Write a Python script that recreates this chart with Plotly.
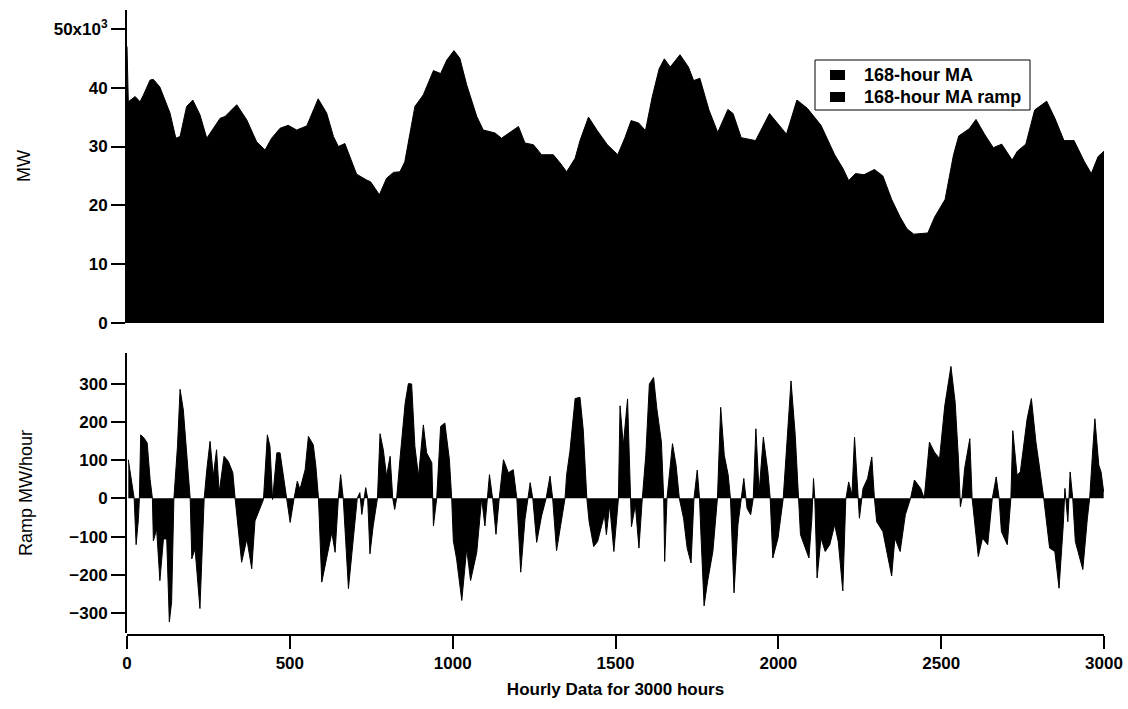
import plotly.graph_objects as go

# 168-hour moving average of load (MW), sampled along the 3000-hour record
ma_hours = [0, 4, 25, 40, 50, 71, 81, 101, 132, 150,
            163, 183, 202, 224, 245, 265, 286, 301, 337, 368,
            398, 424, 444, 470, 495, 521, 552, 587, 613, 634,
            649, 669, 705, 736, 748, 775, 797, 818, 838, 853,
            884, 910, 941, 963, 982, 1004, 1022, 1043, 1074, 1094,
            1130, 1150, 1202, 1222, 1248, 1273, 1309, 1330, 1350, 1376,
            1391, 1417, 1444, 1475, 1507, 1529, 1548, 1571, 1592, 1613,
            1634, 1650, 1668, 1698, 1724, 1740, 1759, 1787, 1814, 1845,
            1861, 1886, 1909, 1930, 1973, 1994, 2025, 2057, 2089, 2131,
            2173, 2199, 2216, 2237, 2263, 2295, 2321, 2348, 2374, 2395,
            2416, 2459, 2480, 2512, 2538, 2554, 2586, 2607, 2633, 2660,
            2686, 2718, 2734, 2760, 2787, 2824, 2850, 2877, 2908, 2940,
            2961, 2982, 3000]
ma_mw = [47000, 37600, 38500, 37600, 38700, 41300, 41400, 40100, 35700, 31400,
         31700, 36800, 37900, 35400, 31400, 33100, 34800, 35100, 37100, 34500,
         30800, 29400, 31400, 33100, 33600, 32800, 33500, 38100, 35700, 31700,
         30000, 30500, 25300, 24300, 24000, 21800, 24600, 25600, 25700, 27400,
         36800, 38800, 42900, 42400, 44700, 46300, 45000, 40500, 35100, 32800,
         32300, 31400, 33400, 30600, 30300, 28600, 28600, 27200, 25700, 28000,
         31000, 35000, 32700, 30300, 28600, 31500, 34400, 34000, 32700, 38500,
         43200, 44900, 43500, 45600, 43500, 41200, 41600, 36200, 32400, 36300,
         35600, 31500, 31300, 31000, 35600, 34200, 32100, 37900, 36500, 33600,
         28600, 26200, 24200, 25400, 25200, 26100, 25000, 21000, 18000, 16000,
         15100, 15300, 18000, 21000, 28600, 31800, 33000, 34600, 32100, 29800,
         30400, 27700, 29200, 30400, 36200, 37700, 34700, 31000, 31000, 27400,
         25400, 28300, 29200]

# Hour-to-hour ramp of the moving average (MW/hour), first half of the record
ramp_hours_a = [4, 14, 22, 28, 35, 38, 42, 52, 62, 71,
                78, 81, 91, 101, 112, 122, 130, 137, 144, 155,
                163, 173, 183, 194, 199, 209, 224, 237, 245, 255,
                265, 275, 283, 298, 311, 325, 332, 342, 352, 368,
                383, 393, 419, 431, 439, 447, 460, 470, 480, 490,
                501, 513, 523, 531, 547, 557, 572, 580, 588, 598,
                613, 629, 639, 649, 656, 664, 680, 695, 707, 715,
                721, 733, 739, 746, 756, 769, 777, 787, 797, 808,
                816, 822, 828, 838, 854, 864, 874, 884, 895, 910,
                920, 936, 941, 951, 963, 976, 990, 997, 1002, 1012,
                1028, 1043, 1055, 1074, 1089, 1099, 1106, 1113, 1123, 1133,
                1143, 1156, 1171, 1186, 1197, 1209, 1222, 1230, 1238, 1246,
                1258, 1273, 1287, 1299, 1307, 1319, 1335, 1345, 1350, 1360,
                1376, 1391, 1401, 1412]
ramp_mw_a = [101, 49, 0, -121, -55, 0, 166, 158, 145, 49,
             0, -111, -81, -215, -106, -106, -323, -271, 0, 136,
             285, 231, 119, 0, -158, -132, -288, 0, 75, 149,
             58, 127, 15, 110, 97, 67, 0, -89, -167, -106,
             -184, -59, -3, 166, 136, -3, 119, 119, 58, 0,
             -63, 0, 45, 23, 75, 162, 140, 84, 0, -219,
             -158, -89, -141, 0, 62, 0, -236, -98, 0, 15,
             -42, 28, 0, -145, -72, 0, 169, 127, 58, 110,
             0, -29, 0, 101, 248, 300, 299, 136, 58, 192,
             119, 93, -72, 0, 188, 197, 101, 0, -111, -158,
             -267, -132, -215, -141, 0, -72, 0, 62, -3, -94,
             0, 101, 67, 75, 0, -193, -55, 0, 41, 0,
             -115, -46, 0, 58, 0, -137, -55, 0, 62, 123,
             261, 264, 179, 0]

# Ramp, second half of the record
ramp_hours_b = [1419, 1433, 1445, 1456, 1466, 1472, 1482, 1495, 1505, 1509,
                1514, 1524, 1537, 1546, 1549, 1561, 1572, 1582, 1593, 1604,
                1617, 1627, 1641, 1648, 1651, 1658, 1669, 1675, 1686, 1696,
                1709, 1720, 1732, 1741, 1751, 1758, 1762, 1772, 1783, 1799,
                1813, 1823, 1834, 1846, 1853, 1864, 1876, 1886, 1894, 1904,
                1915, 1923, 1931, 1941, 1954, 1968, 1975, 1983, 1999, 2015,
                2031, 2039, 2052, 2063, 2068, 2094, 2103, 2108, 2112, 2119,
                2131, 2144, 2158, 2173, 2184, 2198, 2207, 2216, 2226, 2234,
                2242, 2249, 2260, 2274, 2287, 2295, 2302, 2321, 2337, 2348,
                2358, 2374, 2390, 2406, 2418, 2437, 2448, 2464, 2479, 2495,
                2511, 2530, 2543, 2553, 2559, 2564, 2572, 2588, 2595, 2614,
                2627, 2643, 2657, 2669, 2678, 2685, 2703, 2714, 2720, 2733,
                2743, 2764, 2777, 2791, 2801, 2815, 2833, 2849, 2862, 2875,
                2880, 2889, 2896, 2904, 2912, 2935, 2949, 2956, 2965, 2972,
                2984, 2991, 2999]
ramp_mw_b = [-61, -126, -113, -78, -43, -95, -17, -139, -26, 0,
             242, 139, 260, 0, -74, -17, -130, -4, 113, 299,
             316, 234, 147, 0, -165, 0, 95, 143, 87, 0,
             -52, -130, -169, 0, 74, 0, -87, -281, -216, -139,
             0, 238, 113, 61, 0, -247, -69, 0, 52, -26,
             -43, 0, 182, 17, 160, 69, 0, -156, -104, 0,
             208, 307, 164, 0, -95, -156, -52, 52, 0, -208,
             -104, -139, -121, -69, -113, -242, -4, 43, 9, 160,
             35, -52, 26, 52, 108, 0, -61, -87, -156, -203,
             -104, -139, -43, 0, 48, 26, 0, 147, 121, 104,
             242, 345, 251, 104, -22, 0, 78, 156, 0, -152,
             -104, -121, 0, 56, 0, -87, -121, 0, 177, 61,
             69, 208, 261, 147, 87, 0, -130, -139, -235, -69,
             26, -61, 69, 0, -113, -186, -52, 0, 121, 208,
             87, 69, 17]

ramp_hours = ramp_hours_a + ramp_hours_b
ramp_mw = ramp_mw_a + ramp_mw_b

mw_ticks = [0, 10000, 20000, 30000, 40000, 50000]
mw_tick_text = ["0", "10", "20", "30", "40", "50x10<sup>3</sup>"]
ramp_ticks = [-300, -200, -100, 0, 100, 200, 300]
hour_ticks = [0, 500, 1000, 1500, 2000, 2500, 3000]
legend_names = ["168-hour MA", "168-hour MA ramp"]

FONT = "Liberation Sans, Arial, sans-serif"
tick_font = dict(family=FONT, size=17, color="black", weight="bold")

# page geometry (pixels)
W, H = 1128, 704
PL, PR, PT, PB = 127, 1104, 10, 635


def px(x):
    return (x - PL) / (PR - PL)


def py(y):
    return (PB - y) / (PB - PT)


fig = go.Figure()

fig.add_trace(go.Scatter(
    x=ma_hours, y=ma_mw, mode="lines", fill="tozeroy",
    line=dict(color="black", width=1), fillcolor="black",
    showlegend=False, xaxis="x", yaxis="y", hoverinfo="skip"))

fig.add_trace(go.Scatter(
    x=ramp_hours, y=ramp_mw, mode="lines", fill="tozeroy",
    line=dict(color="black", width=1), fillcolor="black",
    showlegend=False, xaxis="x2", yaxis="y2", hoverinfo="skip"))

axis_common = dict(showgrid=False, zeroline=False, linecolor="black",
                   tickcolor="black", tickfont=tick_font, automargin=False)

# legend box with solid black keys
shapes = [dict(type="rect", xref="paper", yref="paper",
               x0=px(815), x1=px(1030), y0=py(110), y1=py(60),
               line=dict(color="black", width=1), fillcolor="white", layer="above")]
annotations = []
for i, name in enumerate(legend_names):
    cy = 75 + i * 22
    shapes.append(dict(type="rect", xref="paper", yref="paper",
                       x0=px(830), x1=px(845), y0=py(cy + 5), y1=py(cy - 5),
                       line=dict(color="black", width=0), fillcolor="black",
                       layer="above"))
    annotations.append(dict(text=name, xref="paper", yref="paper",
                            x=px(862), y=py(cy), xanchor="left", yanchor="middle",
                            showarrow=False,
                            font=dict(family=FONT, size=18, color="black",
                                      weight="bold")))

annotations += [
    dict(text="MW", textangle=-90, xref="paper", yref="paper",
         x=px(24), y=py(166), xanchor="center", yanchor="middle",
         showarrow=False, font=dict(family=FONT, size=18, color="black")),
    dict(text="Ramp MW/hour", textangle=-90, xref="paper", yref="paper",
         x=px(26), y=py(493), xanchor="center", yanchor="middle",
         showarrow=False, font=dict(family=FONT, size=18, color="black")),
]

fig.update_layout(
    width=W, height=H,
    margin=dict(l=PL, r=W - PR, t=PT, b=H - PB),
    paper_bgcolor="white", plot_bgcolor="white",
    showlegend=False,
    xaxis=dict(domain=[0, 1], anchor="y", range=[0, 3000], showline=False,
               showticklabels=False, ticks="", showgrid=False, zeroline=False,
               automargin=False),
    yaxis=dict(domain=[py(323), 1.0], anchor="x", range=[0, 53200],
               tickvals=mw_ticks, ticktext=mw_tick_text,
               ticks="outside", ticklen=14, tickwidth=1.5,
               showline=True, linewidth=2, **axis_common),
    xaxis2=dict(domain=[0, 1], anchor="free", position=0, range=[0, 3000],
                tickvals=hour_ticks, ticks="outside", ticklen=13, tickwidth=1.5,
                showline=True, linewidth=1.5,
                title=dict(text="Hourly Data for 3000 hours", standoff=10,
                           font=dict(family=FONT, size=17, color="black",
                                     weight="bold")),
                **axis_common),
    yaxis2=dict(domain=[py(633), py(353)], anchor="x2", range=[-352, 380],
                tickvals=ramp_ticks, ticks="outside", ticklen=14, tickwidth=1.5,
                showline=True, linewidth=2, **axis_common),
    shapes=shapes,
    annotations=annotations,
)

fig.write_html("out.html")
